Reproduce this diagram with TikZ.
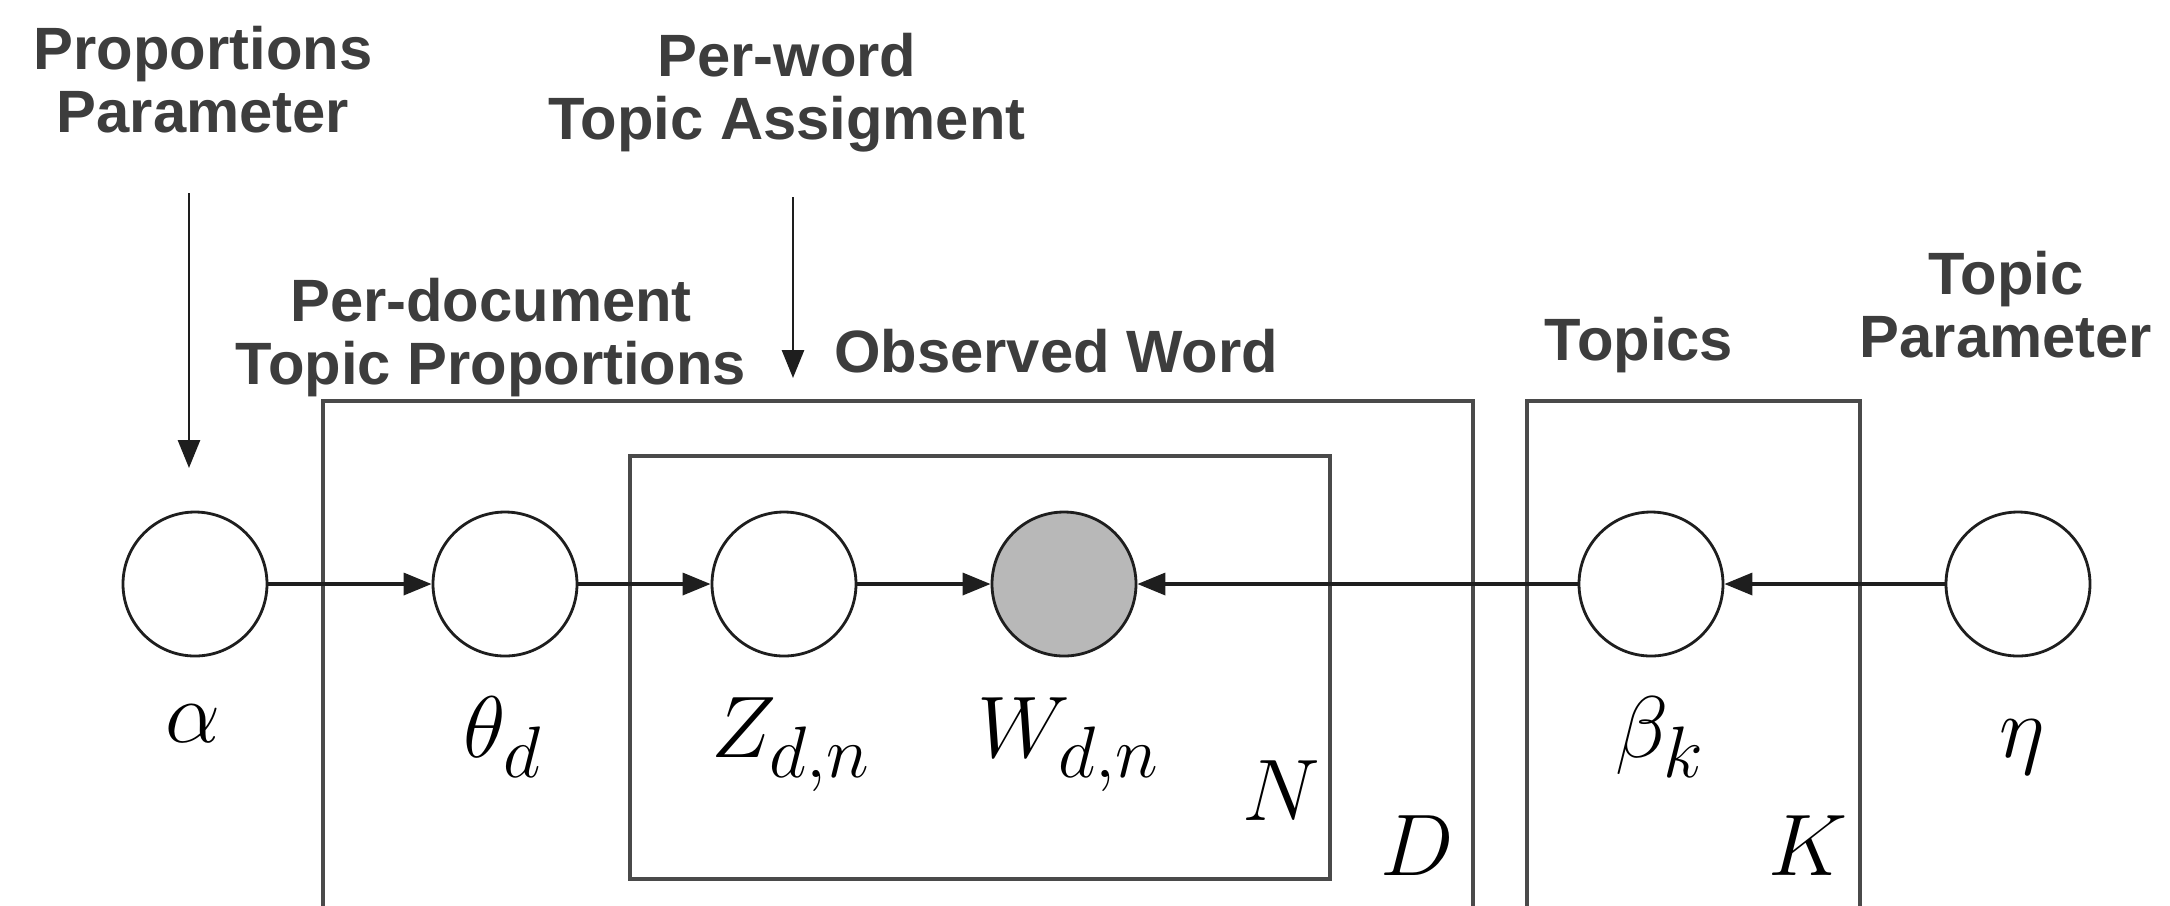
\documentclass[tikz,border=0pt]{standalone}
\usepackage{fontspec}
\setsansfont{Liberation Sans}
\definecolor{ink}     {HTML}{1E1E1E}
\definecolor{mute}    {HTML}{3D3D3D}
\definecolor{rule}    {HTML}{4A4A4A}
\definecolor{shade}   {HTML}{B8B8B8}
\usetikzlibrary{positioning,arrows.meta}
\tikzset{
  latent/.style={circle,draw=ink,line width=0.8pt,fill=white,
                 minimum size=1.44cm,inner sep=0pt},
  observed/.style={latent,fill=shade},
  plate/.style={draw=rule,line width=0.9pt},
  flow/.style={-{Triangle[length=2.8mm,width=2.2mm]},line width=1pt,draw=ink},
  caption/.style={font=\fontsize{17}{18}\selectfont\sffamily\bfseries,
                  text=mute,align=center,inner sep=0pt},
  varlabel/.style={font=\fontsize{24.88}{28}\selectfont,inner sep=0pt,anchor=base}
}

\begin{document}
\begin{tikzpicture}
  \clip (0,0) rectangle (21.7,-9.05);
  % random variables
  \node[latent]   (alpha) at (1.95,-5.84)  {};
  \node[latent]   (theta) at (5.05,-5.84)  {};
  \node[latent]   (z)     at (7.84,-5.84)  {};
  \node[observed] (w)     at (10.64,-5.84) {};
  \node[latent]   (beta)  at (16.51,-5.84) {};
  \node[latent]   (eta)   at (20.18,-5.84) {};
  \node[varlabel] (alphalab) at (1.93,-7.42)  {$\alpha$};
  \node[varlabel] (thetalab) at (5.03,-7.57)  {$\theta_d$};
  \node[varlabel] (zlab)     at (7.91,-7.57)  {$Z_{d,n}$};
  \node[varlabel] (wlab)     at (10.69,-7.57) {$W_{d,n}$};
  \node[varlabel] (betalab)  at (16.60,-7.57) {$\beta_k$};
  \node[varlabel] (etalab)   at (20.22,-7.57) {$\eta$};
  % plates
  \draw[plate] (6.30,-4.56) rectangle (13.30,-8.79);
  \draw[plate] (3.23,-4.01) rectangle (14.73,-9.30);
  \draw[plate] (15.27,-4.01) rectangle (18.60,-9.30);
  \node[varlabel] (nlab) at (12.81,-8.20) {$N$};
  \node[varlabel] (dlab) at (14.17,-8.75) {$D$};
  \node[varlabel] (klab) at (18.08,-8.75) {$K$};
  % edges
  \draw[flow] (alpha) -- (theta);
  \draw[flow] (theta) -- (z);
  \draw[flow] (z) -- (w);
  \draw[flow] (beta) -- (w);
  \draw[flow] (eta) -- (beta);
  % captions
  \node[caption,anchor=north] (propparam)  at (2.03,-0.25)  {Proportions\\Parameter};
  \node[caption,anchor=north] (wordassign) at (7.87,-0.32)  {Per-word\\Topic Assigment};
  \node[caption,anchor=north] (docprop)    at (4.91,-2.77)  {Per-document\\Topic Proportions};
  \node[caption,anchor=base]  (obsword)    at (10.56,-3.72) {Observed Word};
  \node[caption,anchor=base]  (topics)     at (16.39,-3.60) {Topics};
  \node[caption,anchor=north] (topicparam) at (20.06,-2.50) {Topic\\Parameter};
  \coordinate (propin)  at (1.89,-1.93);
  \coordinate (propout) at (1.89,-4.68);
  \coordinate (wordin)  at (7.93,-1.97);
  \coordinate (wordout) at (7.93,-3.78);
  \draw[flow,line width=0.8pt] (propin) -- (propout);
  \draw[flow,line width=0.8pt] (wordin) -- (wordout);
\end{tikzpicture}
\end{document}
